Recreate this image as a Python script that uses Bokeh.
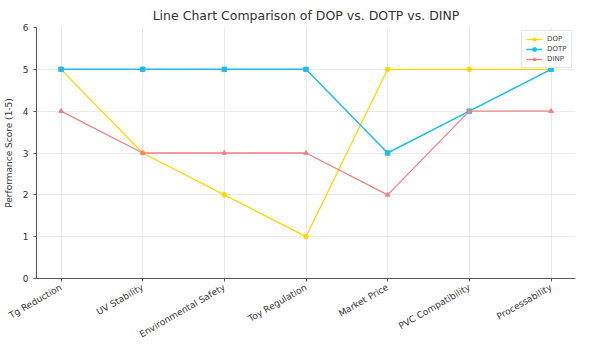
import math
from bokeh.plotting import figure
from bokeh.models import FixedTicker, Legend, LegendItem
from bokeh.embed import file_html
from bokeh.resources import INLINE

categories = ["Tg Reduction", "UV Stability", "Environmental Safety", "Toy Regulation",
              "Market Price", "PVC Compatibility", "Processability"]
dop = [5, 3, 2, 1, 5, 5, 5]
dotp = [5, 5, 5, 5, 3, 4, 5]
dinp = [4, 3, 3, 3, 2, 4, 4]
y_ticks = [0, 1, 2, 3, 4, 5, 6]

xs = list(range(len(categories)))

p = figure(width=583, height=346, output_backend="svg", toolbar_location=None,
           x_range=(-0.3, len(categories) - 1 + 0.3), y_range=(0, 6),
           title="Line Chart Comparison of DOP vs. DOTP vs. DINP")
p.min_border_left = 8
p.min_border_right = 8
p.min_border_top = 4
p.min_border_bottom = 2

p.title.align = "center"
p.title.text_font = "DejaVu Sans"
p.title.text_font_size = "12.5px"
p.title.text_font_style = "normal"
p.title.text_color = "#333333"

p.outline_line_color = None
p.background_fill_color = "white"

p.xaxis.ticker = FixedTicker(ticks=xs)
p.xaxis.major_label_overrides = {i: c for i, c in enumerate(categories)}
p.xaxis.major_label_orientation = math.pi / 6
p.yaxis.ticker = FixedTicker(ticks=y_ticks)
p.yaxis.axis_label = "Performance Score (1-5)"

for ax in (p.xaxis, p.yaxis):
    ax.axis_line_color = "#555555"
    ax.major_tick_line_color = "#555555"
    ax.major_tick_out = 3
    ax.major_tick_in = 0
    ax.minor_tick_line_color = None
    ax.major_label_text_font = "DejaVu Sans"
    ax.major_label_text_font_size = "9px"
    ax.major_label_text_color = "#333333"
    ax.axis_label_text_font = "DejaVu Sans"
    ax.axis_label_text_font_size = "9px"
    ax.axis_label_text_font_style = "normal"
    ax.axis_label_text_color = "#333333"
p.yaxis.axis_label_standoff = 6

p.xgrid.grid_line_color = "#e6e6e6"
p.ygrid.grid_line_color = "#e6e6e6"
p.xgrid.grid_line_width = 0.8
p.ygrid.grid_line_width = 0.8

c_dop, c_dotp, c_dinp = "#FFD700", "#1EBCEB", "#F08080"

l1 = p.line(xs, dop, line_color=c_dop, line_width=1.3)
m1 = p.scatter(xs, dop, marker="circle", size=4.5, color=c_dop)
l2 = p.line(xs, dotp, line_color=c_dotp, line_width=1.5)
m2 = p.scatter(xs, dotp, marker="square", size=4.5, color=c_dotp)
l3 = p.line(xs, dinp, line_color=c_dinp, line_width=1.3)
m3 = p.scatter(xs, dinp, marker="triangle", size=4.5, color=c_dinp)

legend = Legend(items=[
    LegendItem(label="DOP", renderers=[l1, m1]),
    LegendItem(label="DOTP", renderers=[l2, m2]),
    LegendItem(label="DINP", renderers=[l3, m3]),
], location="top_right")
legend.label_text_font = "DejaVu Sans"
legend.label_text_font_size = "7px"
legend.label_height = 8
legend.glyph_height = 8
legend.glyph_width = 16
legend.spacing = 2
legend.padding = 4
legend.margin = 3
legend.border_line_color = "#cccccc"
legend.background_fill_alpha = 0.9
p.add_layout(legend)

open("out.html", "w").write(file_html(p, INLINE))
